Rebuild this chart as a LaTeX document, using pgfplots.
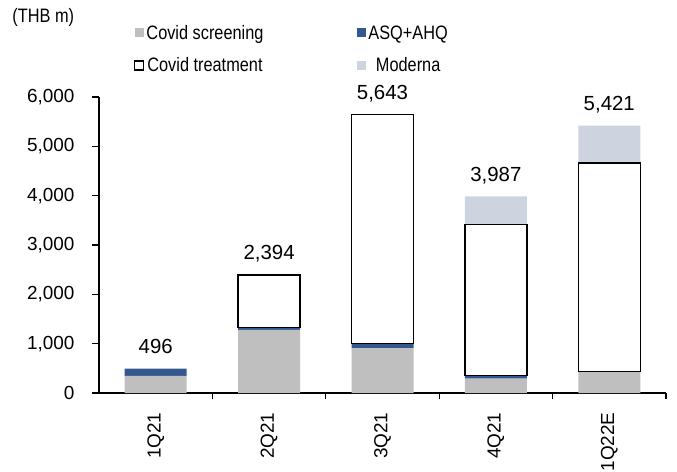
\documentclass[border=0pt]{standalone}
\usepackage{fontspec}
\setmainfont{Liberation Sans}
\newfontfamily\narrowfont[FakeStretch=0.84]{Liberation Sans}
\usepackage{pgfplots}
\pgfplotsset{compat=1.18}
\definecolor{scr}{HTML}{BFBFBF}
\definecolor{asq}{HTML}{35578F}
\definecolor{mod}{HTML}{CDD3DF}
\pgfplotsset{common/.style={
 at={(0,0)}, anchor=south west,
 scale only axis, width=567bp, height=296bp,
 ybar stacked, bar width=62bp,
 xmin=-0.5, xmax=4.5, ymin=0, ymax=6000, clip=false}}
\begin{document}
\begin{tikzpicture}
\begin{axis}[
 common,
 axis x line*=bottom, axis y line*=left,
 axis line style={line width=1.3bp, -},
 tick align=outside,
 xtick={0,1,2,3,4}, xticklabels={1Q21,2Q21,3Q21,4Q21,1Q22E},
 major x tick style={draw=none},
 minor xtick={0.5,1.5,2.5,3.5,4.5},
 minor tick length=6bp, major tick length=7bp,
 every tick/.style={black, line width=1.3bp},
 ytick={0,1000,...,6000},
 /pgf/number format/.cd, 1000 sep={,}, assume math mode=true,
 /pgfplots/.cd,
 yticklabel style={font=\fontsize{19}{22}\selectfont, xshift=-14bp},
 xticklabel style={yshift=-9bp, rotate=90, anchor=east, font=\fontsize{19}{22}\selectfont},
 legend columns=2,
 legend style={draw=none, fill=none, at={(0.0617,1.250)}, anchor=north west,
   font=\narrowfont\fontsize{19.5}{22}\selectfont,
   /tikz/every even column/.append style={column sep=92bp}, row sep=13bp, inner sep=0pt},
]
\addplot[fill=scr, draw=none, legend image code/.code={\fill[scr] (0bp,-4.5bp) rectangle (9bp,4.5bp);}]
  coordinates {(0,345) (1,1280) (2,910) (3,290) (4,430)};
\addlegendentry{Covid screening}
\addplot[fill=asq, draw=none, legend image code/.code={\fill[asq] (0bp,-4.5bp) rectangle (9bp,4.5bp);}]
  coordinates {(0,151) (1,50) (2,100) (3,70) (4,0)};
\addlegendentry{ASQ+AHQ}
\addplot[fill=white, draw=none, legend image code/.code={\draw[black, line width=1.3bp, fill=white] (0bp,-4.5bp) rectangle (9bp,4.5bp);}]
  coordinates {(0,0) (1,1064) (2,4633) (3,3060) (4,4230)};
\addlegendentry{Covid treatment}
\addplot[fill=mod, draw=none, legend image code/.code={\fill[mod] (0bp,-4.5bp) rectangle (9bp,4.5bp);}]
  coordinates {(0,0) (1,0) (2,0) (3,567) (4,761)};
\addlegendentry{Moderna}
\node[anchor=base, font=\fontsize{20.5}{22}\selectfont] at (axis cs:0,496) [yshift=15bp] {496};
\node[anchor=base, font=\fontsize{20.5}{22}\selectfont] at (axis cs:1,2394) [yshift=15bp] {2,394};
\node[anchor=base, font=\fontsize{20.5}{22}\selectfont] at (axis cs:2,5643) [yshift=15bp] {5,643};
\node[anchor=base, font=\fontsize{20.5}{22}\selectfont] at (axis cs:3,3987) [yshift=15bp] {3,987};
\node[anchor=base, font=\fontsize{20.5}{22}\selectfont] at (axis cs:4,5421) [yshift=15bp] {5,421};
\node[anchor=west, inner sep=0pt, font=\narrowfont\fontsize{19.5}{22}\selectfont] at (rel axis cs:-0.153,1.267) {(THB m)};
\end{axis}
\begin{axis}[common, hide axis]
\addplot[fill=none, draw=none] coordinates {(1,1330) (2,1010) (3,360) (4,430)};
\addplot[fill=none, draw=black, line width=1.3bp] coordinates {(1,1064) (2,4633) (3,3060) (4,4230)};
\end{axis}
\pgfresetboundingbox
\path[use as bounding box] (-99bp,-79bp) rectangle (578bp,393bp);
\end{tikzpicture}
\end{document}
